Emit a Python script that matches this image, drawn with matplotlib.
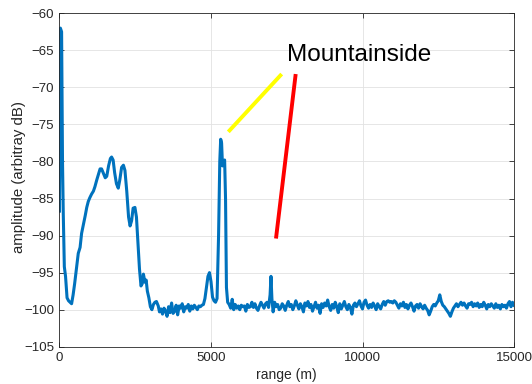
import numpy as np
import matplotlib
matplotlib.use("Agg")
import matplotlib.pyplot as plt

# near-range part of the trace
head_range = [
    0, 30, 70, 100, 125, 160, 200, 250, 300, 350, 400, 450, 500, 560, 620,
    680, 730, 790, 850, 900, 950, 1000, 1060, 1120, 1170, 1230, 1290, 1340,
    1390, 1450, 1510, 1560, 1620, 1680, 1720, 1770, 1820, 1880, 1940, 1990,
    2050, 2110, 2160, 2220, 2280, 2330, 2380, 2430, 2490, 2540, 2590, 2640,
    2690, 2730, 2770, 2820, 2860, 2900, 2950, 3000, 3050, 3100, 3150, 3200,
    3260, 3300, 3350, 3400, 3450, 3500, 3550, 3600, 3650, 3700, 3750, 3800,
    3850, 3900, 3950, 4000, 4050, 4100, 4150, 4200, 4250, 4300, 4350, 4400,
    4450, 4500, 4550, 4600, 4650, 4700, 4750, 4800, 4850, 4900, 4950, 5000,
    5050, 5100, 5150, 5200, 5250, 5290, 5320, 5350, 5380, 5420, 5450, 5480,
    5510, 5550, 5600, 5650, 5700, 5750, 5800, 5850, 5900, 5950, 6000, 6050,
    6100, 6150, 6200, 6250, 6300, 6350, 6400, 6450, 6500, 6550, 6600, 6650,
    6700, 6750, 6800, 6850, 6900, 6950, 6980, 7010, 7050, 7100, 7150, 7200,
    7250,
]
head_amp = [
    -86.7, -62.0, -62.5, -80.0, -87.0, -94.2, -95.5, -98.4, -98.8, -99.0,
    -99.2, -98.0, -96.5, -94.5, -92.4, -91.6, -89.7, -88.5, -87.3, -86.2,
    -85.4, -84.9, -84.4, -84.0, -83.4, -82.5, -81.7, -81.0, -81.0, -81.6,
    -82.2, -82.0, -80.6, -79.6, -79.4, -79.8, -81.5, -83.0, -83.6, -82.5,
    -80.8, -80.5, -81.2, -84.0, -87.5, -88.7, -88.0, -86.3, -86.2, -87.5,
    -91.0, -94.5, -96.8, -96.5, -95.2, -96.3, -96.0, -97.5, -98.4, -99.6,
    -100.0, -99.3, -99.0, -98.9, -99.5, -100.3, -99.9, -100.6, -99.8, -100.2,
    -100.9, -99.6, -100.4, -99.1, -100.5, -100.2, -99.4, -100.7, -99.5, -99.8,
    -99.2, -100.3, -99.6, -99.8, -99.3, -100.2, -99.5, -99.9, -99.4, -99.7,
    -100.0, -99.5, -99.6, -99.4, -99.3, -98.5, -97.0, -95.5, -95.0, -96.2,
    -98.3, -98.8, -99.0, -98.5, -90.0, -80.0, -77.0, -77.5, -80.6, -80.0,
    -79.8, -85.0, -97.0, -99.0, -99.3, -99.8, -98.6, -100.0, -99.3, -99.8,
    -99.5, -100.0, -99.4, -99.6, -99.5, -100.2, -99.3, -99.7, -99.6, -99.0,
    -99.7, -99.2, -99.8, -100.1, -99.5, -99.0, -99.4, -99.8, -99.2, -99.0,
    -99.7, -98.0, -95.5, -98.5, -100.3, -99.0, -99.6, -99.3, -100.0,
]

# noise floor from 7300 m to 15000 m, one value every 50 m
tail_amp = [
    -99.8, -99.2, -99.5, -100.1, -99.4, -98.9, -99.6, -99.3, -100.0, -99.5,
    -98.8, -99.4, -99.9, -99.2, -99.6, -100.3, -99.1, -99.5, -98.9, -99.7,
    -99.3, -100.2, -99.6, -99.0, -99.8, -99.4, -100.5, -99.2, -99.7, -99.1,
    -99.5, -98.7, -99.6, -100.1, -99.3, -99.8, -99.0, -99.6, -100.4, -99.2,
    -99.9, -99.4, -98.9, -99.6, -100.0, -99.3, -99.7, -100.6, -99.4, -99.1,
    -99.6, -99.2, -98.8, -99.5, -99.9, -99.0, -98.7, -99.4, -99.8, -99.3,
    -99.7, -99.1, -99.5, -100.0, -99.2, -99.6, -99.9, -99.3, -98.9, -99.4,
    -98.9, -98.8, -99.0, -98.9, -99.1, -98.8, -99.0, -99.4, -99.8, -99.2,
    -99.5, -99.0, -99.7, -99.3, -99.9, -99.4, -99.1, -99.6, -100.2, -99.5,
    -99.3, -99.8, -99.2, -99.6, -99.9, -99.4, -99.8, -100.1, -100.7, -100.2,
    -99.6, -99.3, -99.5, -99.1, -98.8, -98.0, -98.9, -99.4, -99.6, -99.9,
    -100.2, -100.5, -100.9, -100.3, -99.8, -99.5, -99.2, -99.6, -99.3, -99.0,
    -99.4, -99.1, -99.5, -99.8, -99.2, -99.3, -99.0, -99.6, -99.2, -99.5,
    -99.1, -99.7, -99.3, -99.6, -99.0, -99.4, -99.9, -99.3, -99.6, -99.2,
    -99.5, -99.8, -99.2, -99.7, -99.4, -99.9, -99.3, -99.6, -99.4, -99.8,
    -99.2, -98.9, -99.6, -99.0, -99.4,
]
tail_range = np.linspace(7300, 15000, len(tail_amp))

range_m = np.concatenate([head_range, tail_range])
amp_db = np.concatenate([head_amp, tail_amp])

# annotation pointer lines (range, amplitude)
yellow_x = [7333, 5571]
yellow_y = [-68.2, -76.0]
red_x = [7795, 7145]
red_y = [-68.2, -90.4]

x_ticks = [0, 5000, 10000, 15000]
y_ticks = list(range(-105, -59, 5))

fig = plt.figure(figsize=(5.32, 3.84), dpi=100)
ax = fig.add_axes([0.1118, 0.0971, 0.8544, 0.8683])

ax.plot(range_m, amp_db, color="#0072BD", lw=2.2, solid_joinstyle="round")
ax.plot(yellow_x, yellow_y, color="#FFFF00", lw=2.8, solid_capstyle="butt")
ax.plot(red_x, red_y, color="#FF0000", lw=2.8, solid_capstyle="butt")
ax.text(7510, -66.4, "Mountainside", fontsize=17.5, family="Liberation Sans",
        color="black", ha="left", va="baseline")

ax.set_xlim(0, 15000)
ax.set_ylim(-105, -60)
ax.set_xticks(x_ticks)
ax.set_yticks(y_ticks)
ax.grid(True, color="#e2e2e2", lw=0.6)
ax.set_axisbelow(True)
ax.tick_params(direction="in", top=True, right=True, length=3.5, width=0.6,
               labelsize=9.5, colors="#262626", pad=4)
for sp in ax.spines.values():
    sp.set_color("#262626")
    sp.set_linewidth(0.6)
for lab in ax.get_xticklabels() + ax.get_yticklabels():
    lab.set_family("Liberation Sans")
ax.set_xlabel("range (m)", fontsize=10, family="Liberation Sans",
              color="#262626", labelpad=3)
ax.set_ylabel("amplitude (arbitray dB)", fontsize=10.8, family="Liberation Sans",
              color="#262626")
ax.yaxis.set_label_coords(-0.089, 0.51)
ax.yaxis.label.set_va("center")

fig.savefig("out.png", dpi=100)
